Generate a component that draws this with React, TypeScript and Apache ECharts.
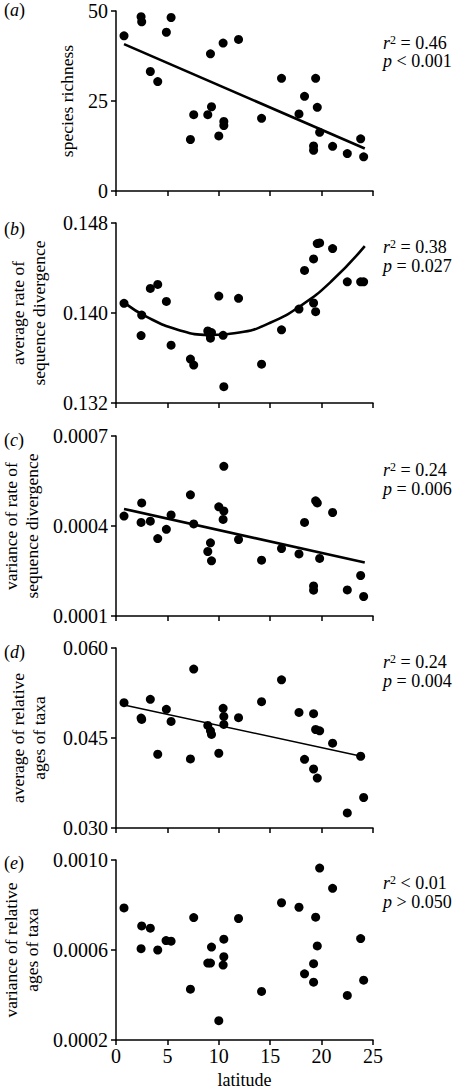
import React, { useEffect, useRef } from "react";
import * as echarts from "echarts";

// ---------- data ----------
const latA = [0.78, 2.44, 2.5, 3.34, 4.06, 4.9, 5.36, 7.24, 7.56, 8.93, 9.19, 9.29, 10.0, 10.42, 10.49, 10.49, 11.92, 14.16, 16.1, 17.8, 18.34, 19.22, 19.22, 19.42, 19.58, 19.81, 21.07, 22.5, 23.8, 24.09];
const speciesRichness = [43.1, 48.4, 47.0, 33.2, 30.4, 44.1, 48.2, 14.3, 21.2, 21.2, 38.1, 23.4, 15.3, 41.1, 19.3, 18.2, 42.1, 20.2, 31.3, 21.4, 26.3, 12.5, 11.3, 31.3, 23.25, 16.3, 12.4, 10.4, 14.5, 9.5];

const latB = [0.78, 2.5, 2.44, 3.34, 4.06, 4.9, 5.36, 7.24, 7.56, 8.93, 9.19, 9.29, 9.05, 10.0, 10.42, 10.49, 11.92, 14.16, 16.1, 17.8, 18.34, 19.22, 19.22, 19.42, 19.58, 19.81, 21.07, 22.5, 23.8, 24.09];
const avgRate = [0.14086, 0.13982, 0.13799, 0.14218, 0.14254, 0.14103, 0.13714, 0.1359, 0.13537, 0.13841, 0.13776, 0.13826, 0.1382, 0.1415, 0.13802, 0.13345, 0.1413, 0.13545, 0.1385, 0.14035, 0.14378, 0.14089, 0.14481, 0.14012, 0.14617, 0.14623, 0.14573, 0.14277, 0.14277, 0.14277];

const latC = [0.78, 2.5, 2.44, 3.34, 4.06, 4.9, 5.36, 7.24, 7.56, 8.93, 9.19, 9.29, 10.0, 10.42, 10.49, 10.49, 11.92, 14.16, 16.1, 17.8, 18.34, 19.22, 19.22, 19.42, 19.58, 19.81, 21.07, 22.5, 23.8, 24.09];
const varRate = [0.000433, 0.000477, 0.000412, 0.000416, 0.000358, 0.000389, 0.000437, 0.000504, 0.000407, 0.000315, 0.000344, 0.000284, 0.000464, 0.000422, 0.000599, 0.00045, 0.000355, 0.000286, 0.000325, 0.000307, 0.000412, 0.0002, 0.000186, 0.000484, 0.000477, 0.000292, 0.000445, 0.000187, 0.000235, 0.000165];

const latD = [0.78, 2.44, 2.5, 3.34, 4.06, 4.9, 5.36, 7.24, 7.56, 8.93, 9.19, 9.29, 10.0, 10.42, 10.49, 10.49, 11.92, 14.16, 16.1, 17.8, 18.34, 19.22, 19.22, 19.42, 19.58, 19.81, 21.07, 22.5, 23.8, 24.09];
const avgAge = [0.05089, 0.04832, 0.0481, 0.05145, 0.04229, 0.04978, 0.04777, 0.04151, 0.05648, 0.0471, 0.0462, 0.04559, 0.04246, 0.04994, 0.0486, 0.04726, 0.04838, 0.05106, 0.05469, 0.04927, 0.04145, 0.04905, 0.03983, 0.04642, 0.03832, 0.0462, 0.04413, 0.03251, 0.04196, 0.03508];

const latE = [0.78, 2.5, 3.34, 2.44, 4.06, 4.87, 5.36, 7.24, 7.56, 8.93, 9.19, 9.29, 10.0, 10.49, 10.49, 10.42, 11.92, 14.16, 16.1, 17.8, 18.34, 19.22, 19.22, 19.42, 19.58, 19.81, 21.07, 22.5, 23.8, 24.09];
const varAge = [0.000787, 0.000707, 0.000697, 0.000606, 0.0006, 0.000642, 0.000639, 0.000426, 0.000744, 0.000542, 0.000542, 0.000613, 0.000286, 0.000648, 0.00057, 0.000533, 0.00074, 0.000416, 0.00081, 0.00079, 0.000494, 0.000457, 0.000539, 0.000746, 0.000618, 0.000964, 0.000874, 0.000398, 0.000651, 0.000466];

// fitted lines
const fitA = [[0.78, 40.8], [24.2, 11.8]];
const fitB = [[0.78, 0.14092], [3, 0.13965], [6, 0.13852], [9, 0.13806], [12, 0.13826], [15, 0.13913], [18, 0.14066], [21, 0.14286], [24.2, 0.14594]];
const fitC = [[0.78, 0.000457], [24.2, 0.000278]];
const fitD = [[0.78, 0.0505], [24.2, 0.04184]];

const panelLetters = ["a", "b", "c", "d", "e"];
const yNames = [
  "species richness",
  "average rate of\nsequence divergence",
  "variance of rate of\nsequence divergence",
  "average of relative\nages of taxa",
  "variance of relative\nages of taxa",
];
const yTicks = [
  [0, 25, 50],
  [0.132, 0.14, 0.148],
  [0.0001, 0.0004, 0.0007],
  [0.03, 0.045, 0.06],
  [0.0002, 0.0006, 0.001],
];
const yDecimals = [0, 3, 4, 3, 4];
const rSqText = ["= 0.46", "= 0.38", "= 0.24", "= 0.24", "< 0.01"];
const pText = ["< 0.001", "= 0.027", "= 0.006", "= 0.004", "> 0.050"];
const xMin = 0;
const xMax = 25;
const xStep = 5;
const xName = "latitude";

// ---------- layout ----------
const FONT = "'Liberation Serif', 'Times New Roman', serif";
const GRID_TOPS = [11, 223, 436, 648, 860];
const GRID_H = 180;
const GRID_LEFT = 116;
const GRID_W = 257;
const STAT_Y = [[43, 61], [247, 266], [470, 489], [662, 681], [883, 902]];
const LETTER_Y = [10, 229, 440, 652, 863];
const FIT_WIDTH = [2.6, 2.6, 2.6, 1.6];

const zip = (xs: number[], ys: number[]) => xs.map((x, i) => [x, ys[i]]);

export default function App() {
  const ref = useRef<HTMLDivElement>(null);
  useEffect(() => {
    document.body.style.margin = "0";
    if (!ref.current) return;
    const chart = echarts.init(ref.current, null, { renderer: "svg" });

    const scatterData = [
      zip(latA, speciesRichness),
      zip(latB, avgRate),
      zip(latC, varRate),
      zip(latD, avgAge),
      zip(latE, varAge),
    ];
    const fits = [fitA, fitB, fitC, fitD];

    const grids = GRID_TOPS.map((t) => ({
      left: GRID_LEFT,
      top: t,
      width: GRID_W,
      height: GRID_H,
      containLabel: false,
      outerBoundsMode: "none",
    }));
    const axisLineStyle = { color: "#000", width: 1.5 };

    const xAxes = GRID_TOPS.map((_, i) => ({
      type: "value",
      gridIndex: i,
      min: xMin,
      max: xMax,
      interval: xStep,
      axisLine: { show: true, onZero: false, lineStyle: axisLineStyle },
      axisTick: { show: true, inside: false, length: 5, lineStyle: axisLineStyle },
      axisLabel: {
        show: i === 4,
        color: "#000",
        fontFamily: FONT,
        fontSize: 20,
        margin: 6,
      },
      splitLine: { show: false },
      name: i === 4 ? xName : "",
      nameLocation: "middle",
      nameGap: 31,
      nameTextStyle: { color: "#000", fontFamily: FONT, fontSize: 18 },
    }));

    const yAxes = GRID_TOPS.map((_, i) => ({
      type: "value",
      gridIndex: i,
      min: yTicks[i][0],
      max: yTicks[i][2],
      axisLine: { show: true, onZero: false, lineStyle: axisLineStyle },
      axisTick: { show: true, inside: false, length: 5, lineStyle: axisLineStyle, customValues: yTicks[i] },
      axisLabel: {
        show: true,
        customValues: yTicks[i],
        color: "#000",
        fontFamily: FONT,
        fontSize: 20,
        margin: 8,
        formatter: (v: number) => v.toFixed(yDecimals[i]),
      },
      splitLine: { show: false },
      name: yNames[i],
      nameLocation: "middle",
      nameRotate: 90,
      nameGap: i === 0 ? 33 : 67,
      nameTextStyle: { color: "#000", fontFamily: FONT, fontSize: 17.5, lineHeight: 21 },
    }));

    const series: any[] = [];
    scatterData.forEach((d, i) => {
      series.push({
        type: "scatter",
        xAxisIndex: i,
        yAxisIndex: i,
        data: d,
        symbol: "circle",
        symbolSize: 9,
        itemStyle: { color: "#000", opacity: 1 },
      });
    });
    fits.forEach((f, i) => {
      series.push({
        type: "line",
        xAxisIndex: i,
        yAxisIndex: i,
        data: f,
        smooth: i === 1,
        showSymbol: false,
        symbol: "none",
        lineStyle: { color: "#000", width: FIT_WIDTH[i] },
      });
    });

    const graphic: any[] = [];
    panelLetters.forEach((l, i) => {
      graphic.push({
        type: "text",
        x: 4,
        y: LETTER_Y[i],
        style: {
          text: `{p|(}{i|${l}}{p|)}`,
          verticalAlign: "middle",
          rich: {
            p: { fontFamily: FONT, fontSize: 18, fill: "#000" },
            i: { fontFamily: FONT, fontSize: 18, fontStyle: "italic", fill: "#000" },
          },
        },
      });
      graphic.push({
        type: "text",
        x: 383,
        y: STAT_Y[i][0],
        style: {
          text: `{i|r}{s|2}{n| ${rSqText[i]}}`,
          verticalAlign: "middle",
          rich: {
            i: { fontFamily: FONT, fontSize: 18, fontStyle: "italic", fill: "#000" },
            s: { fontFamily: FONT, fontSize: 12, fill: "#000", verticalAlign: "top" },
            n: { fontFamily: FONT, fontSize: 18, fill: "#000" },
          },
        },
      });
      graphic.push({
        type: "text",
        x: 383,
        y: STAT_Y[i][1],
        style: {
          text: `{i|p}{n| ${pText[i]}}`,
          verticalAlign: "middle",
          rich: {
            i: { fontFamily: FONT, fontSize: 18, fontStyle: "italic", fill: "#000" },
            n: { fontFamily: FONT, fontSize: 18, fill: "#000" },
          },
        },
      });
    });

    chart.setOption({
      animation: false,
      backgroundColor: "#fff",
      grid: grids,
      xAxis: xAxes,
      yAxis: yAxes,
      series,
      graphic,
    });
    return () => chart.dispose();
  }, []);
  return <div ref={ref} style={{ width: 454, height: 1092 }} />;
}
